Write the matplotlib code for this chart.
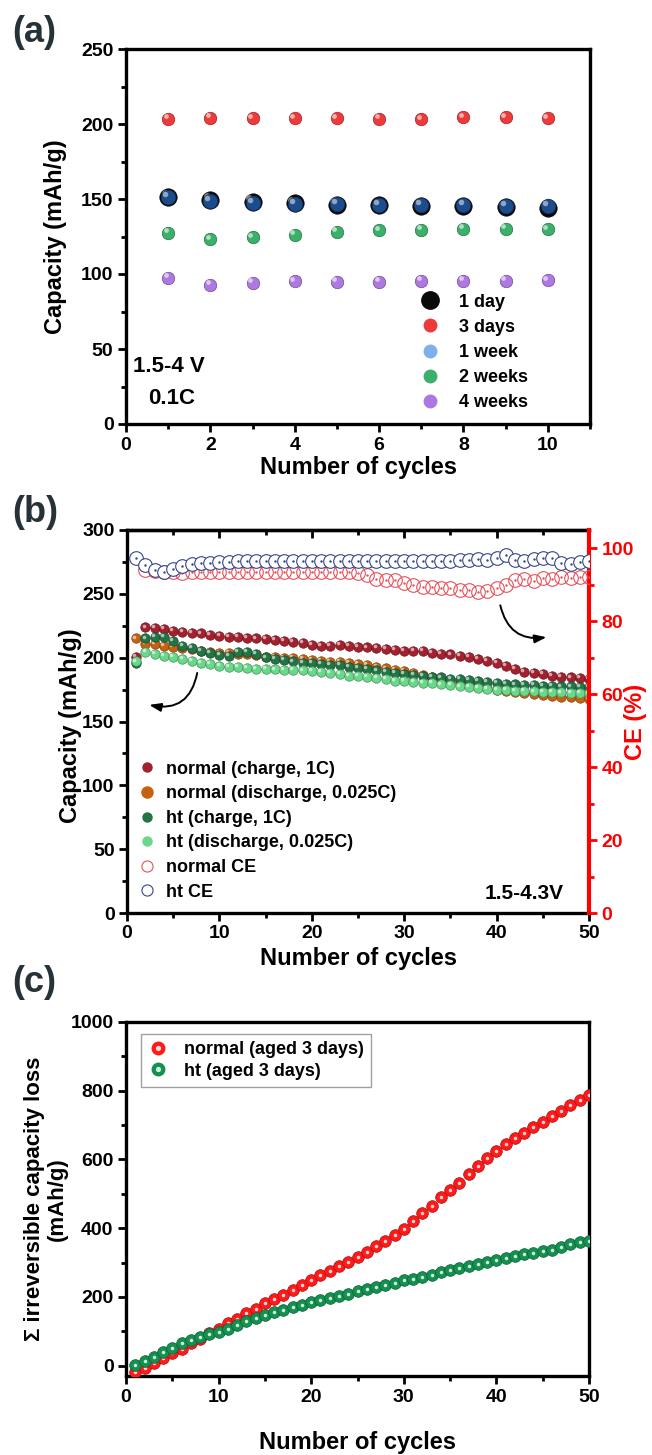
import numpy as np
import matplotlib
matplotlib.use('Agg')
import matplotlib.pyplot as plt
import matplotlib.colors as mcolors
from matplotlib.lines import Line2D
from matplotlib.legend_handler import HandlerTuple
from matplotlib.ticker import MultipleLocator
from matplotlib.transforms import offset_copy

plt.rcParams['font.family'] = ['Liberation Sans', 'DejaVu Sans']
plt.rcParams['font.weight'] = 'bold'
plt.rcParams['axes.labelweight'] = 'bold'

# ---- panel (a): capacity vs cycle for different ageing times ----
cycles_a = np.arange(1, 11)
cap_1day = [151.6, 149.4, 148.1, 147.2, 146.3, 145.8, 145.4, 145.2, 144.5, 143.9]
cap_3days = [203.5, 204.1, 203.9, 203.9, 203.9, 203.5, 203.3, 204.4, 204.6, 203.9]
cap_1week = [151.2, 148.6, 147.4, 146.8, 146.6, 146.2, 145.8, 145.8, 145.6, 145.4]
cap_2weeks = [127.6, 123.2, 124.5, 126.3, 128.1, 129.2, 129.4, 130.1, 130.3, 129.9]
cap_4weeks = [97.4, 92.9, 94.1, 95.2, 95.0, 95.0, 95.6, 95.6, 95.6, 95.8]

# ---- panel (b): long cycling, capacity + coulombic efficiency ----
cycles_b = np.arange(1, 51)
normal_charge = [200.8, 223.7, 223.4, 222.4, 220.9, 220.1, 219.6, 219.0, 217.7, 217.2,
                 216.4, 215.9, 215.5, 215.1, 214.5, 213.8, 213.2, 212.5, 211.8, 209.9,
                 209.1, 209.2, 209.7, 209.0, 208.6, 208.0, 207.3, 206.5, 206.0, 205.2,
                 205.4, 205.0, 204.0, 202.9, 202.5, 201.6, 200.5, 199.0, 197.5, 195.6,
                 193.5, 191.1, 188.5, 188.0, 187.2, 186.0, 185.1, 184.5, 184.0, 183.0]
normal_discharge = [215.1, 210.7, 210.7, 209.1, 208.5, 207.5, 206.5, 205.5, 204.8, 204.0,
                    203.5, 203.0, 202.5, 201.8, 200.8, 200.5, 200.0, 199.5, 199.0, 198.3,
                    197.5, 196.9, 196.5, 196.0, 195.0, 194.0, 193.0, 191.6, 190.5, 189.5,
                    188.0, 186.5, 185.0, 183.5, 182.0, 180.5, 179.0, 177.3, 176.0, 175.0,
                    174.0, 173.2, 172.3, 171.5, 171.0, 170.2, 169.5, 168.8, 168.3, 168.0]
ht_charge = [195.6, 215.1, 216.4, 216.4, 213.3, 209.1, 207.8, 205.5, 203.9, 202.1,
             201.3, 204.7, 204.5, 202.9, 200.2, 198.7, 198.0, 197.0, 196.0, 195.6,
             195.0, 194.3, 194.0, 193.0, 192.0, 190.9, 190.0, 189.0, 188.0, 187.5,
             186.5, 185.8, 185.0, 184.5, 183.5, 183.0, 182.5, 181.5, 180.8, 180.0,
             179.5, 179.0, 178.6, 178.5, 178.0, 177.8, 177.5, 177.5, 177.3, 177.0]
ht_discharge = [197.0, 204.7, 202.6, 201.6, 200.8, 198.7, 197.4, 196.1, 194.8, 193.7,
                193.0, 192.5, 192.0, 191.5, 191.0, 190.8, 190.5, 190.3, 190.0, 189.5,
                189.0, 188.0, 187.0, 186.0, 185.5, 185.0, 184.0, 183.0, 182.0, 181.5,
                181.0, 180.5, 179.9, 179.0, 178.5, 177.5, 177.0, 176.0, 175.5, 174.7,
                174.5, 174.0, 173.8, 173.5, 173.2, 173.0, 172.8, 172.5, 172.2, 172.0]
cycles_ce_normal = np.arange(2, 51)
ce_normal = [94.0, 93.8, 93.6, 93.4, 93.3, 93.4, 93.5, 93.5, 93.5,
             93.5, 93.4, 93.5, 93.5, 93.5, 93.4, 93.5, 93.5, 93.5, 93.5,
             93.4, 93.5, 93.5, 93.4, 93.3, 92.6, 91.7, 91.3, 91.3, 90.6,
             89.9, 89.3, 89.3, 89.0, 89.0, 88.5, 88.5, 87.9, 88.2, 89.0,
             89.9, 91.3, 91.7, 91.1, 91.8, 91.7, 92.2, 91.9, 92.2, 92.2]
ce_ht = [97.2, 95.4, 94.0, 93.4, 94.2, 95.0, 95.6, 95.9, 96.0, 96.2,
         96.3, 96.4, 96.5, 96.4, 96.5, 96.4, 96.5, 96.5, 96.4, 96.5,
         96.5, 96.5, 96.4, 96.5, 96.5, 96.5, 96.5, 96.5, 96.5, 96.5,
         96.6, 96.5, 96.5, 96.5, 96.6, 96.8, 96.9, 97.0, 96.8, 97.2,
         98.1, 96.8, 96.5, 97.0, 97.4, 97.2, 95.9, 95.6, 96.1, 96.4]

# ---- panel (c): cumulative irreversible capacity loss ----
cycles_c = np.arange(1, 51)
loss_normal = [-17, -8, 7, 21, 36, 50, 65, 79, 94, 108,
               123, 137, 152, 166, 181, 195, 207, 221, 236, 248,
               263, 275, 289, 301, 316, 330, 347, 364, 381, 398,
               420, 443, 466, 490, 511, 533, 558, 582, 604, 625,
               645, 662, 678, 695, 710, 726, 741, 758, 772, 787]
loss_ht = [2, 14, 26, 41, 52, 65, 74, 84, 91, 99,
           108, 118, 130, 140, 147, 155, 161, 171, 176, 184,
           190, 197, 203, 210, 217, 223, 229, 236, 242, 248,
           253, 258, 265, 272, 279, 285, 291, 297, 303, 308,
           313, 318, 324, 329, 333, 338, 345, 353, 359, 364]


def lighten(c, f):
    r = np.array(mcolors.to_rgb(c))
    return tuple(r + (1 - r) * f)


def darken(c, f=0.35):
    r = np.array(mcolors.to_rgb(c))
    return tuple(r * (1 - f))


def balls(ax, x, y, color, ms, z, hl=0.6, off=0.2, hs=0.38, hcolor=None):
    """Shaded 'sphere' markers: base disc plus a small light highlight."""
    ax.plot(x, y, 'o', ms=ms, color=color, mec=darken(color), mew=0.5,
            ls='none', zorder=z)
    tr = offset_copy(ax.transData, fig=ax.figure, x=-ms * off, y=ms * off,
                     units='points')
    ax.plot(x, y, 'o', ms=ms * hs, color=hcolor or lighten(color, hl),
            mec='none', ls='none', transform=tr, zorder=z + 0.05)


def style(ax):
    for s in ax.spines.values():
        s.set_linewidth(2.4)
    ax.tick_params(which='both', direction='out', width=2, labelsize=14,
                   top=False, right=False, pad=3)
    ax.tick_params(which='major', length=6)
    ax.tick_params(which='minor', length=3.5)


fig = plt.figure(figsize=(6.52, 14.55), dpi=100)
W, H = 652, 1455
ax_a = fig.add_axes([126 / W, 1 - 424 / H, 464 / W, 375 / H])
ax_b = fig.add_axes([127 / W, 1 - 913 / H, 462 / W, 383 / H])
ax_c = fig.add_axes([126 / W, 1 - 1376 / H, 463 / W, 354 / H])

# ---------------- (a) ----------------
style(ax_a)
balls(ax_a, cycles_a, cap_1day, '#0a0a0a', 12.5, 3.0, hl=0.55)
balls(ax_a, cycles_a, cap_3days, '#ee3a3a', 9, 3.1)
balls(ax_a, cycles_a, cap_1week, '#1d4c8c', 10.5, 3.2, hl=0.5)
balls(ax_a, cycles_a, cap_2weeks, '#3cb06a', 9, 3.3)
balls(ax_a, cycles_a, cap_4weeks, '#ad78e0', 9, 3.4)
ax_a.set_xlim(0, 11)
ax_a.set_ylim(0, 250)
ax_a.xaxis.set_major_locator(MultipleLocator(2))
ax_a.xaxis.set_minor_locator(MultipleLocator(1))
ax_a.yaxis.set_major_locator(MultipleLocator(50))
ax_a.yaxis.set_minor_locator(MultipleLocator(25))
ax_a.set_xlabel('Number of cycles', fontsize=17)
ax_a.set_ylabel('Capacity (mAh/g)', fontsize=17)
ax_a.xaxis.set_label_coords(0.5, -0.085)
ax_a.yaxis.set_label_coords(-0.127, 0.5)
ax_a.text(0.015, 0.152, '1.5-4 V', transform=ax_a.transAxes, fontsize=16,
          va='center', ha='left')
ax_a.text(0.047, 0.069, '0.1C', transform=ax_a.transAxes, fontsize=16,
          va='center', ha='left')
h_a = [Line2D([], [], marker='o', ls='none', ms=12.5, color='#0a0a0a'),
       Line2D([], [], marker='o', ls='none', ms=9, color='#ee3a3a'),
       Line2D([], [], marker='o', ls='none', ms=9, color='#7fb0ec'),
       Line2D([], [], marker='o', ls='none', ms=9, color='#3cb06a'),
       Line2D([], [], marker='o', ls='none', ms=9, color='#ad78e0')]
ax_a.legend(h_a, ['1 day', '3 days', '1 week', '2 weeks', '4 weeks'],
            loc='lower left', bbox_to_anchor=(0.62, 0.015), frameon=False,
            fontsize=13, handlelength=1.0, handletextpad=1.1,
            labelspacing=0.45, borderaxespad=0)

# ---------------- (b) ----------------
style(ax_b)
ax_b.spines['right'].set_visible(False)
balls(ax_b, cycles_b, normal_charge, '#a3202e', 6.8, 3.0)
balls(ax_b, cycles_b, normal_discharge, '#c6620e', 6.8, 3.1)
balls(ax_b, cycles_b, ht_charge, '#227445', 6.8, 3.2)
balls(ax_b, cycles_b, ht_discharge, '#6ad88a', 6.8, 3.3)
ax_b.set_xlim(0, 50)
ax_b.set_ylim(0, 300)
ax_b.xaxis.set_major_locator(MultipleLocator(10))
ax_b.xaxis.set_minor_locator(MultipleLocator(5))
ax_b.yaxis.set_major_locator(MultipleLocator(50))
ax_b.yaxis.set_minor_locator(MultipleLocator(25))
ax_b.set_xlabel('Number of cycles', fontsize=17)
ax_b.set_ylabel('Capacity (mAh/g)', fontsize=17)
ax_b.xaxis.set_label_coords(0.5, -0.09)
ax_b.yaxis.set_label_coords(-0.097, 0.49)
top_b = ax_b.secondary_xaxis('top')
top_b.xaxis.set_major_locator(MultipleLocator(10))
top_b.xaxis.set_minor_locator(MultipleLocator(5))
top_b.tick_params(which='both', direction='in', width=2, labeltop=False)
top_b.tick_params(which='major', length=6)
top_b.tick_params(which='minor', length=3.5)
top_b.spines['top'].set_linewidth(2.4)

ax2 = ax_b.twinx()
ax2.set_ylim(0, 105)
for s in ['left', 'top', 'bottom']:
    ax2.spines[s].set_visible(False)
ax2.spines['right'].set_color('#ff0000')
ax2.spines['right'].set_linewidth(3)
ax2.yaxis.set_major_locator(MultipleLocator(20))
ax2.yaxis.set_minor_locator(MultipleLocator(10))
ax2.tick_params(which='both', direction='out', width=2, colors='#ff0000',
                labelsize=14, pad=3)
ax2.tick_params(which='major', length=6)
ax2.tick_params(which='minor', length=3.5)
ax2.set_ylabel('CE (%)', fontsize=17, color='#ff0000')
ax2.yaxis.set_label_coords(1.075, 0.5)
ce_n_col = '#e8505a'
ce_h_col = '#34468a'
ax2.plot(cycles_ce_normal, ce_normal, 'o', ms=9.8, mfc='none', mec=ce_n_col,
         mew=0.8, ls='none', zorder=3)
ax2.plot(cycles_ce_normal, ce_normal, '.', ms=1.5, color=ce_n_col, ls='none',
         zorder=3)
ax2.plot(cycles_b, ce_ht, 'o', ms=9.8, mfc='white', mec=ce_h_col, mew=0.8,
         ls='none', zorder=3.2)
ax2.plot(cycles_b, ce_ht, '.', ms=1.5, color=ce_h_col, ls='none', zorder=3.3)

ax_b.annotate('', xy=(2.4, 163), xytext=(7.6, 188),
              arrowprops=dict(arrowstyle='-|>,head_length=0.7,head_width=0.25',
                              connectionstyle='arc3,rad=-0.5', color='black',
                              lw=1.4, shrinkA=0, shrinkB=0))
ax_b.annotate('', xy=(45.4, 216), xytext=(40.4, 241),
              arrowprops=dict(arrowstyle='-|>,head_length=0.7,head_width=0.25',
                              connectionstyle='arc3,rad=0.45', color='black',
                              lw=1.4, shrinkA=0, shrinkB=0))
ax_b.text(0.944, 0.052, '1.5-4.3V', transform=ax_b.transAxes, fontsize=15,
          ha='right', va='center')

h_b = [Line2D([], [], marker='o', ls='none', ms=6.5, color='#a3202e'),
       Line2D([], [], marker='o', ls='none', ms=8, color='#c6620e'),
       Line2D([], [], marker='o', ls='none', ms=6.5, color='#227445'),
       Line2D([], [], marker='o', ls='none', ms=6.5, color='#6ad88a'),
       Line2D([], [], marker='o', ls='none', ms=8, mfc='none', mec=ce_n_col, mew=0.8),
       Line2D([], [], marker='o', ls='none', ms=8, mfc='none', mec=ce_h_col, mew=0.8)]
lab_b = ['normal (charge, 1C)', 'normal (discharge, 0.025C)', 'ht (charge, 1C)',
         'ht (discharge, 0.025C)', 'normal CE', 'ht CE']
leg_b = ax2.legend(h_b, lab_b, loc='center left', bbox_to_anchor=(0.01, 0.215),
                   frameon=False, fontsize=13, handlelength=0.9,
                   handletextpad=0.6, labelspacing=0.42, borderaxespad=0)

# ---------------- (c) ----------------
style(ax_c)
balls(ax_c, cycles_c, loss_normal, '#ff1a1a', 8.4, 3.0, off=0.0, hs=0.3,
      hcolor='#ffd4d4')
balls(ax_c, cycles_c, loss_ht, '#149050', 8.4, 3.1, off=0.0, hs=0.3,
      hcolor='#cfeedc')
ax_c.set_xlim(0, 50)
ax_c.set_ylim(-30, 1000)
ax_c.xaxis.set_major_locator(MultipleLocator(10))
ax_c.xaxis.set_minor_locator(MultipleLocator(5))
ax_c.yaxis.set_major_locator(MultipleLocator(200))
ax_c.yaxis.set_minor_locator(MultipleLocator(100))
ax_c.set_xlabel('Number of cycles', fontsize=17)
ax_c.set_ylabel('\u03a3 irreversible capacity loss\n(mAh/g)', fontsize=16,
                linespacing=1.15)
ax_c.xaxis.set_label_coords(0.5, -0.155)
ax_c.yaxis.set_label_coords(-0.125, 0.5)
h_c = [(Line2D([], [], marker='o', ls='none', ms=9, color='#ff1a1a'),
        Line2D([], [], marker='o', ls='none', ms=2.8, color='#ffd4d4')),
       (Line2D([], [], marker='o', ls='none', ms=9, color='#149050'),
        Line2D([], [], marker='o', ls='none', ms=2.8, color='#cfeedc'))]
leg_c = ax_c.legend(h_c, ['normal (aged 3 days)', 'ht (aged 3 days)'],
                    handler_map={tuple: HandlerTuple(ndivide=1)},
                    loc='upper left', bbox_to_anchor=(0.032, 0.966),
                    fontsize=13, handlelength=1.1, handletextpad=0.9,
                    labelspacing=0.25, borderaxespad=0, fancybox=False,
                    framealpha=1, edgecolor='#a0a0a0')
leg_c.get_frame().set_linewidth(1.0)

# panel letters
for lab, yy in [('(a)', 32), ('(b)', 512), ('(c)', 982)]:
    fig.text(12 / W, 1 - yy / H, lab, fontsize=26, color='#263238',
             ha='left', va='center')

fig.savefig('out.png', dpi=100)
